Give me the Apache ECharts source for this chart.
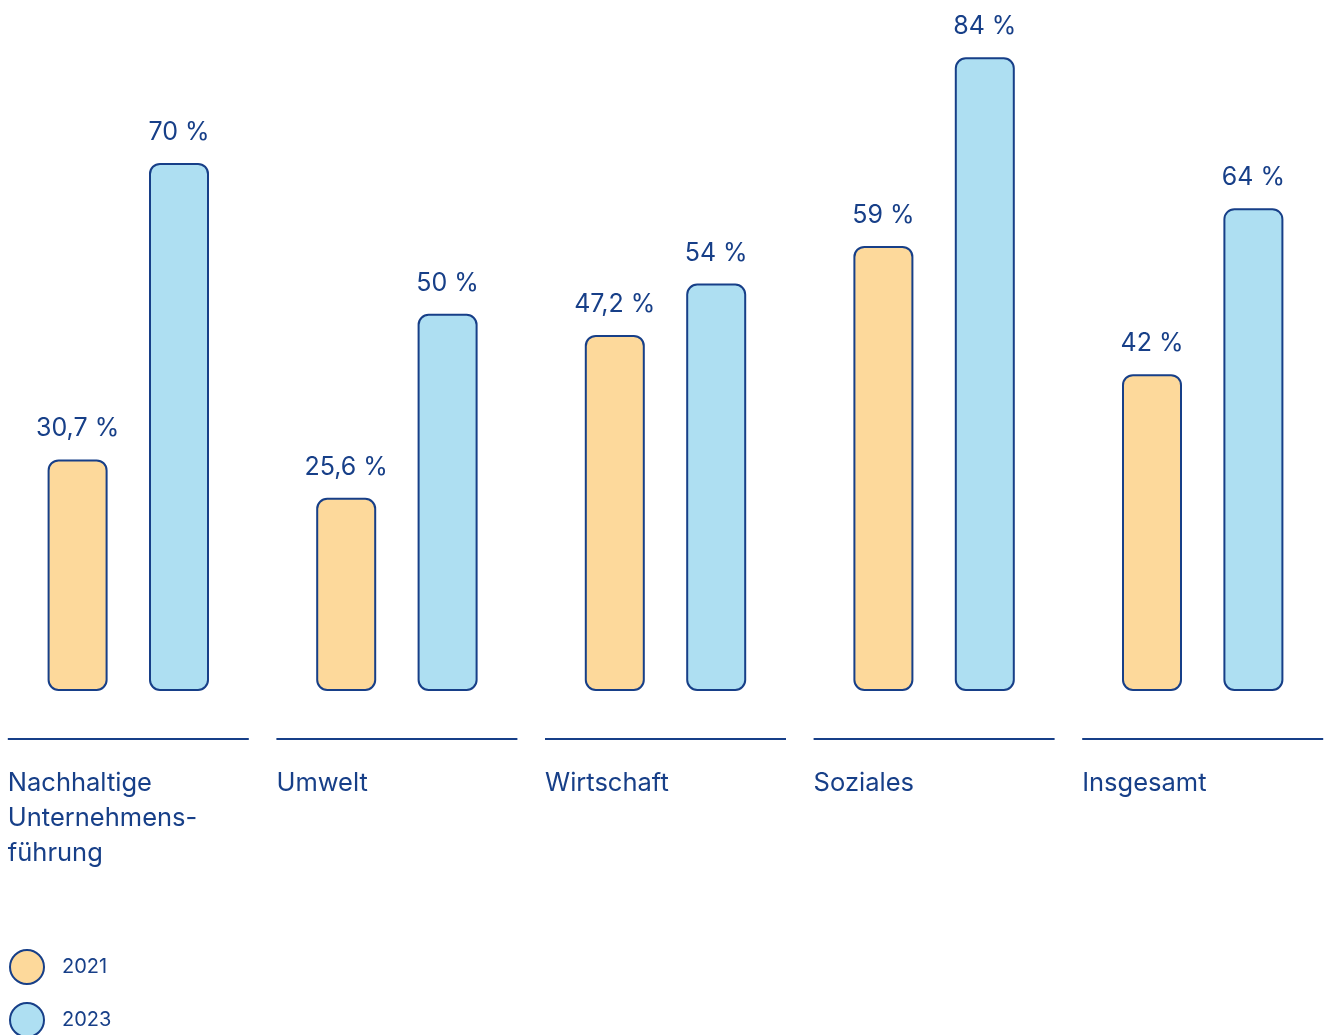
<!DOCTYPE html>
<html>
<head>
<meta charset="utf-8">
<script src="https://cdn.jsdelivr.net/npm/echarts@6/dist/echarts.min.js"></script>
<style>
html,body{margin:0;padding:0;background:#fff;overflow:hidden;width:1325px;height:1035px;}
#chart{position:absolute;left:-6px;top:0;width:1343px;height:1035px;}
</style>
</head>
<body>
<div id="chart"></div>
<script>
var categories = ['Nachhaltige\nUnternehmens-\nführung', 'Umwelt', 'Wirtschaft', 'Soziales', 'Insgesamt'];
var seriesNames = ['2021', '2023'];
var values2021 = [30.7, 25.6, 47.2, 59, 42];
var values2023 = [70, 50, 54, 84, 64];

var NAVY = '#173f88';
var FONT = 'Inter, "Noto Sans", sans-serif';

function fmt(p) {
  return String(p.value).replace('.', ',') + ' %';
}

var chart = echarts.init(document.getElementById('chart'), null, {renderer: 'canvas'});

var barLabel = {
  show: true,
  position: 'top',
  distance: 18,
  color: NAVY,
  fontFamily: FONT,
  fontSize: 25,
  formatter: fmt
};

var legendCommon = {
  orient: 'vertical',
  left: 15,
  padding: 0,
  icon: 'circle',
  itemWidth: 34,
  itemHeight: 34,
  textStyle: {color: NAVY, fontFamily: FONT, fontSize: 20, padding: [0, 0, 0, 13]}
};

chart.setOption({
  animation: false,
  backgroundColor: '#ffffff',
  grid: {left: 0, right: 0, top: 12, bottom: 344, containLabel: false},
  xAxis: {
    type: 'category',
    data: categories,
    axisLine: {show: false},
    axisTick: {show: false},
    axisLabel: {show: false},
    splitLine: {show: false}
  },
  yAxis: {
    type: 'value',
    min: 0,
    max: 90,
    show: false
  },
  legend: [
    Object.assign({}, legendCommon, {data: [seriesNames[0]], top: 949}),
    Object.assign({}, legendCommon, {data: [seriesNames[1]], top: 1002})
  ],
  series: [
    {
      name: seriesNames[0],
      type: 'bar',
      data: values2021,
      barWidth: 60,
      barGap: '69%',
      itemStyle: {color: '#fdd99b', borderColor: NAVY, borderWidth: 2, borderRadius: 10},
      label: barLabel
    },
    {
      name: seriesNames[1],
      type: 'bar',
      data: values2023,
      barWidth: 60,
      itemStyle: {color: '#aedff2', borderColor: NAVY, borderWidth: 2, borderRadius: 10},
      label: barLabel
    },
    {
      name: 'axis',
      type: 'custom',
      clip: false,
      silent: true,
      data: categories.map(function (c, i) { return [i, 0]; }),
      renderItem: function (params, api) {
        var p = api.coord([api.value(0), 0]);
        var half = 120.5;
        var x0 = p[0] - half;
        return {
          type: 'group',
          children: [
            {
              type: 'line',
              shape: {x1: x0, y1: p[1] + 48, x2: p[0] + half, y2: p[1] + 48},
              style: {stroke: NAVY, lineWidth: 2}
            },
            {
              type: 'text',
              x: x0,
              y: p[1] + 75,
              style: {
                text: categories[params.dataIndex],
                fill: NAVY,
                fontFamily: FONT,
                fontSize: 25.5,
                lineHeight: 35,
                align: 'left',
                verticalAlign: 'top'
              }
            }
          ]
        };
      }
    }
  ]
});
</script>
</body>
</html>
